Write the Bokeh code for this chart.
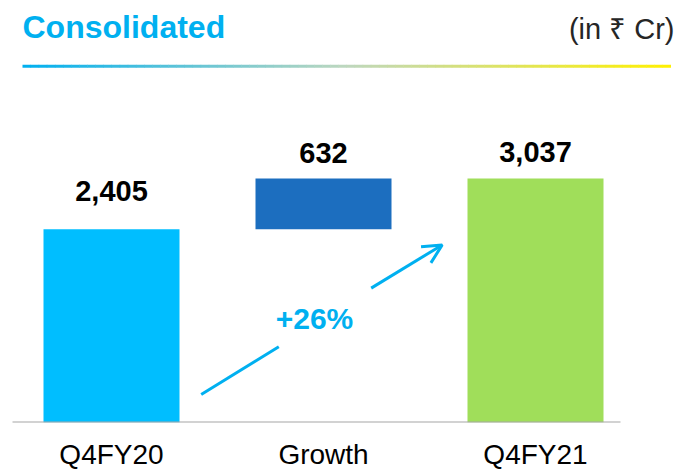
from bokeh.plotting import figure
from bokeh.models import Range1d, FixedTicker, Arrow, OpenHead, ColumnDataSource
from bokeh.core.properties import value
from bokeh.embed import file_html
from bokeh.resources import INLINE

# ---- data ----
categories = ["Q4FY20", "Growth", "Q4FY21"]
values = [2405, 632, 3037]
bar_colors = ["#00BEFF", "#1C6EBF", "#A0DE5A"]
title_text = "Consolidated"
unit_text = "(in \u20b9 Cr)"

# ---- layout / style ----
W, H = 678, 472
AXIS_H = 49
FRAME_H = H - AXIS_H
XPX = 212.0                 # pixels per category step
X0 = -111.0 / XPX           # data x at left edge of frame
X1 = X0 + W / XPX
PX_PER_UNIT = 0.08057
Y1 = FRAME_H / PX_PER_UNIT
FONT = "Liberation Sans"
CYAN = "#00B0F0"


def dx(px):
    return X0 + px / XPX


def dy(py):
    return (FRAME_H - py) / PX_PER_UNIT


# waterfall geometry derived from the values
xs = list(range(len(categories)))
bottoms = [0, values[0], 0]
tops = [values[0], values[0] + values[1], values[2]]
labels = [f"{v:,}" for v in values]
label_offsets = [-38, -25, -26]
growth_pct = round(100 * values[1] / values[0])

p = figure(width=W, height=H, output_backend="svg", toolbar_location=None,
           x_range=Range1d(X0, X1), y_range=Range1d(0, Y1),
           min_border_left=0, min_border_right=0, min_border_top=0,
           min_border_bottom=AXIS_H)
p.outline_line_color = None
p.grid.visible = False
p.yaxis.visible = False
p.background_fill_color = "white"
p.border_fill_color = "white"

src = ColumnDataSource(dict(x=xs, bottom=bottoms, top=tops, color=bar_colors,
                            label=labels, off=label_offsets))
p.vbar(x="x", bottom="bottom", top="top", width=136 / XPX, color="color",
       line_color=None, source=src)
p.text(x="x", y="top", text="label", y_offset="off", source=src,
       text_align="center", text_baseline="middle",
       text_font=value(FONT), text_font_size="29px", text_font_style="bold",
       text_color="#000000")

ax = p.xaxis[0]
ax.ticker = FixedTicker(ticks=xs)
ax.major_label_overrides = {i: c for i, c in enumerate(categories)}
ax.major_label_text_font = FONT
ax.major_label_text_font_size = "28px"
ax.major_label_text_color = "#000000"
ax.major_label_standoff = 16
ax.major_tick_out = 0
ax.major_tick_in = 0
ax.minor_tick_out = 0
ax.minor_tick_in = 0
ax.axis_line_color = None

# baseline
p.segment(x0=[dx(12)], y0=[0], x1=[dx(620)], y1=[0], line_color="#A6A6A6",
          line_width=2)

# header
p.text(x=[dx(22)], y=[dy(26.5)], text=[title_text], text_font=value(FONT),
       text_font_size="32px", text_font_style="bold", text_color=CYAN,
       text_baseline="middle", text_align="left")
p.text(x=[dx(674)], y=[dy(29)], text=[unit_text], text_font=value(FONT),
       text_font_size="29px", text_color="#262626",
       text_baseline="middle", text_align="right")

# gradient rule under header
stops = [(0.0, (0, 176, 240)), (0.5, (190, 215, 190)), (1.0, (255, 240, 0))]
N = 80
gx0, gx1, gy = 22, 670, 66
segx0, segx1, segc = [], [], []
for i in range(N):
    t = (i + 0.5) / N
    for (a, ca), (b, cb) in zip(stops[:-1], stops[1:]):
        if a <= t <= b:
            f = (t - a) / (b - a)
            c = tuple(int(round(ca[k] + (cb[k] - ca[k]) * f)) for k in range(3))
            break
    segx0.append(dx(gx0 + (gx1 - gx0) * i / N))
    segx1.append(dx(gx0 + (gx1 - gx0) * (i + 1) / N + 0.5))
    segc.append("#%02x%02x%02x" % c)
p.segment(x0=segx0, y0=[dy(gy)] * N, x1=segx1, y1=[dy(gy)] * N,
          line_color=segc, line_width=3)

# growth arrow with gap for the label
p.segment(x0=[dx(200.7)], y0=[dy(395)], x1=[dx(278.3)], y1=[dy(347)],
          line_color=CYAN, line_width=3)
p.add_layout(Arrow(end=OpenHead(size=19, line_color=CYAN, line_width=3),
                   x_start=dx(370.7), y_start=dy(288.3),
                   x_end=dx(441.7), y_end=dy(245),
                   line_color=CYAN, line_width=3))
p.text(x=[dx(314)], y=[dy(318.7)], text=[f"+{growth_pct}%"],
       text_font=value(FONT), text_font_size="30px", text_font_style="bold",
       text_color=CYAN, text_align="center", text_baseline="middle")

open("out.html", "w").write(file_html(p, INLINE))
